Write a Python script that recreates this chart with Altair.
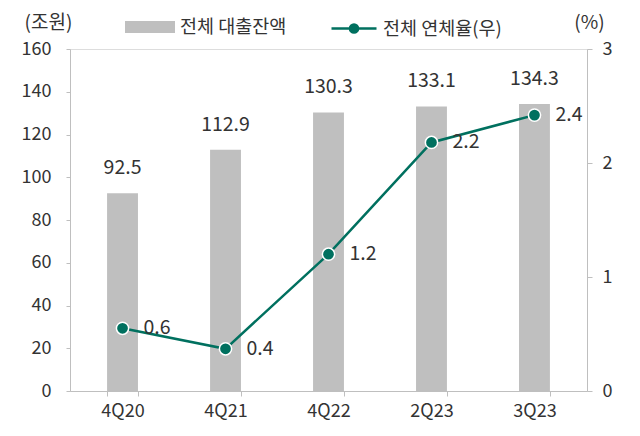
import altair as alt
import pandas as pd

categories = ["4Q20", "4Q21", "4Q22", "2Q23", "3Q23"]
loans = [92.5, 112.9, 130.3, 133.1, 134.3]
loan_labels = ["92.5", "112.9", "130.3", "133.1", "134.3"]
rates = [0.55, 0.37, 1.2, 2.18, 2.42]
rate_labels = ["0.6", "0.4", "1.2", "2.2", "2.4"]
series_bar = "전체 대출잔액"
series_line = "전체 연체율(우)"

df = pd.DataFrame({
    "q": categories,
    "loan": loans,
    "loan_label": loan_labels,
    "rate": rates,
    "rate_label": rate_labels,
    "s1": [series_bar] * len(categories),
    "s2": [series_line] * len(categories),
})

FONT = "Noto Sans CJK KR"
TXT = "#333333"
BAR = "#bfbfbf"
TEAL = "#00705f"
AXC = "#bfbfbf"

x = alt.X("q:N", sort=categories, title=None,
          scale=alt.Scale(paddingInner=0.7, paddingOuter=0.36),
          axis=alt.Axis(labelAngle=0, tickBand="extent", domainColor=AXC, tickColor=AXC,
                        tickSize=5, labelPadding=6, labelFontSize=18, labelColor=TXT,
                        labelFont=FONT))

y_left = alt.Y("loan:Q", scale=alt.Scale(domain=[0, 160]),
               axis=alt.Axis(values=list(range(0, 161, 20)), grid=False, title="(조원)",
                             titleAngle=0, titleX=-22, titleY=-27, titleAlign="center",
                             titleBaseline="middle", titleFontSize=19, titleFontWeight="normal",
                             titleColor=TXT, titleFont=FONT, domainColor=AXC, tickColor=AXC,
                             tickSize=4, labelPadding=15, labelFontSize=18, labelColor=TXT,
                             labelFont=FONT))

y_right = alt.Y("rate:Q", scale=alt.Scale(domain=[0, 3]),
                axis=alt.Axis(values=[0, 1, 2, 3], format="d", orient="right", grid=False,
                              title="(%)", titleAngle=0, titleX=2, titleY=-27,
                              titleAlign="center", titleBaseline="middle", titleFontSize=19,
                              titleFontWeight="normal", titleColor=TXT, titleFont=FONT,
                              domainColor=AXC, tickColor=AXC, tickSize=5, labelPadding=10,
                              labelFontSize=18, labelColor=TXT, labelFont=FONT))

base = alt.Chart(df)

bars = base.mark_bar().encode(
    x=x,
    y=y_left,
    color=alt.Color("s1:N", scale=alt.Scale(range=[BAR]),
                    legend=alt.Legend(title=None, orient="none", legendX=55, legendY=-47,
                                      symbolType="M-1,-0.24L1,-0.24L1,0.24L-1,0.24Z",
                                      symbolSize=2500, symbolStrokeWidth=0,
                                      labelFontSize=18.5, labelColor=TXT, labelFont=FONT,
                                      labelOffset=5, padding=0)),
)

bar_text = base.mark_text(baseline="alphabetic", dy=-19, fontSize=19.5, color=TXT,
                          font=FONT).encode(
    x=alt.X("q:N", sort=categories),
    y=alt.Y("loan:Q"),
    text="loan_label:N",
)

line = base.mark_line(strokeWidth=2.5).encode(
    x=alt.X("q:N", sort=categories),
    y=y_right,
    color=alt.Color("s2:N", scale=alt.Scale(range=[TEAL]),
                    legend=alt.Legend(title=None, orient="none", legendX=260, legendY=-44.5,
                                      symbolType="M-1,0L1,0M0.18,0A0.18,0.18,0,1,1,-0.18,0A0.18,0.18,0,1,1,0.18,0Z",
                                      symbolSize=2025, symbolStrokeWidth=2.5,
                                      symbolFillColor=TEAL, symbolStrokeColor=TEAL,
                                      labelFontSize=18.5, labelColor=TXT, labelFont=FONT,
                                      labelOffset=5, padding=0)),
)

points = base.mark_point(filled=True, size=150, color=TEAL, stroke="white",
                         strokeWidth=1.5, opacity=1).encode(
    x=alt.X("q:N", sort=categories),
    y=alt.Y("rate:Q"),
)

rate_text = base.mark_text(align="left", baseline="middle", dx=21, fontSize=19.5,
                           color=TXT, font=FONT).encode(
    x=alt.X("q:N", sort=categories),
    y=alt.Y("rate:Q"),
    text="rate_label:N",
)

left = alt.layer(bars, bar_text)
right = alt.layer(line, points, rate_text)

chart = alt.layer(left, right).resolve_scale(y="independent", color="independent").properties(
    width=517, height=342,
    autosize=alt.AutoSizeParams(type="none"),
    padding={"left": 62, "top": 41, "right": 36, "bottom": 30},
).configure_view(stroke=None).configure(font=FONT)

chart.save("out.html", embed_options={"renderer": "svg", "actions": False})
